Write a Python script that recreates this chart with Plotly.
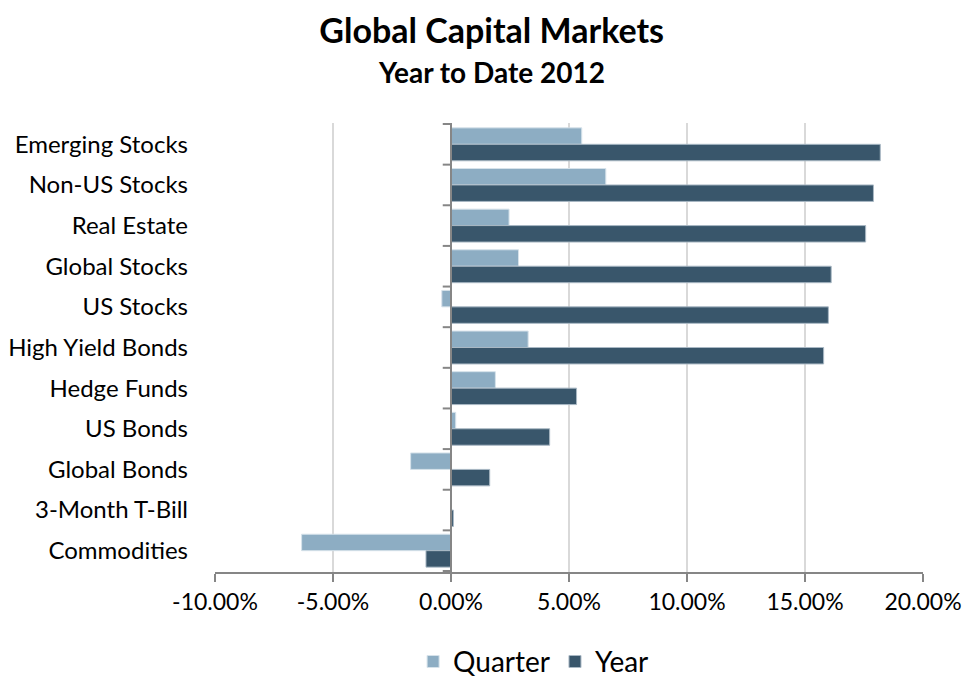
import plotly.graph_objects as go

categories = ["Emerging Stocks", "Non-US Stocks", "Real Estate", "Global Stocks", "US Stocks",
              "High Yield Bonds", "Hedge Funds", "US Bonds", "Global Bonds", "3-Month T-Bill",
              "Commodities"]
quarter = [5.54, 6.56, 2.46, 2.86, -0.39, 3.27, 1.88, 0.20, -1.71, 0.01, -6.33]
year = [18.19, 17.90, 17.57, 16.11, 15.99, 15.79, 5.32, 4.18, 1.64, 0.10, -1.06]
x_ticks = [-10, -5, 0, 5, 10, 15, 20]
x_tick_labels = [f"{v:.2f}%" for v in x_ticks]

FONT = "Lato"
Q_COLOR = "#8DADC3"
Y_COLOR = "#39566B"
AXIS_COLOR = "#868686"

fig = go.Figure()
fig.add_trace(go.Bar(y=categories, x=quarter, name="Quarter", orientation="h",
                     marker=dict(color=Q_COLOR, line=dict(color="#D6E2EA", width=1))))
fig.add_trace(go.Bar(y=categories, x=year, name="Year", orientation="h",
                     marker=dict(color=Y_COLOR, line=dict(color="#A9B8C4", width=1))))

# vertical axis line at zero with tick marks between categories
shapes = [dict(type="line", xref="x", yref="paper", x0=0, x1=0, y0=0, y1=1,
               line=dict(color=AXIS_COLOR, width=2), layer="above")]
n = len(categories)
for i in range(n + 1):
    shapes.append(dict(type="line", xref="x", yref="y", x0=-0.35, x1=0,
                       y0=i - 0.5, y1=i - 0.5, line=dict(color=AXIS_COLOR, width=2)))

fig.update_layout(
    width=966, height=685,
    margin=dict(l=215, r=43, t=123, b=113, autoexpand=False),
    paper_bgcolor="white", plot_bgcolor="white",
    font=dict(family=FONT, color="black", size=20),
    barmode="group", bargap=0.19, bargroupgap=0,
    title=dict(text="<b>Global Capital Markets</b>", x=0.509, xanchor="center",
               y=0.955, yanchor="middle", font=dict(size=34, family=FONT)),
    annotations=[dict(text="<b>Year to Date 2012</b>", xref="paper", yref="paper",
                      x=0.39, y=1.0, yshift=51, showarrow=False,
                      font=dict(size=28, family=FONT), xanchor="center", yanchor="middle")],
    xaxis=dict(range=[-10, 20], tickvals=x_ticks, ticktext=x_tick_labels, tickangle=0,
               showgrid=True, gridcolor="#D9D9D9", gridwidth=1.5,
               showline=True, linecolor=AXIS_COLOR, linewidth=2,
               ticks="outside", ticklen=8, tickwidth=2, tickcolor=AXIS_COLOR,
               zeroline=False, tickfont=dict(size=23), fixedrange=True),
    yaxis=dict(categoryorder="array", categoryarray=categories, autorange="reversed",
               showline=False, ticks="", ticklabelstandoff=26, tickfont=dict(size=24),
               showgrid=False, zeroline=False),
    legend=dict(orientation="h", x=0.45, xanchor="center",
                y=-0.2, yanchor="middle", font=dict(size=28),
                traceorder="normal"),
    shapes=shapes,
    showlegend=True,
)

fig.write_html("out.html")
